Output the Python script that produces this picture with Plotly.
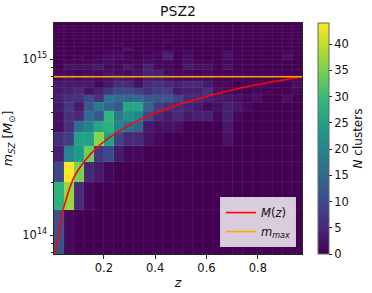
import plotly.graph_objects as go

# ---- data ----
z_edges = [0.006, 0.0446, 0.0833, 0.1219, 0.1606, 0.1992, 0.2378, 0.2765, 0.3151,
           0.3538, 0.3924, 0.4310, 0.4697, 0.5083, 0.5470, 0.5856, 0.6242, 0.6629,
           0.7015, 0.7402, 0.7788, 0.8174, 0.8561, 0.8947, 0.9334, 0.972]
m_edges = [7.80e13, 1.392e14, 2.003e14, 2.615e14, 3.226e14, 3.838e14, 4.450e14,
           5.061e14, 5.673e14, 6.284e14, 6.896e14, 7.508e14, 8.119e14, 8.731e14,
           9.342e14, 9.954e14, 1.0566e15, 1.1177e15, 1.1789e15, 1.2401e15,
           1.3012e15, 1.3624e15, 1.4235e15, 1.4847e15, 1.5459e15, 1.607e15]

# counts, rows from lowest mass bin to highest, columns in z order
counts = [
    [11, 1, 0, 0, 0, 0, 0, 0, 0, 0, 0, 0, 0, 0, 0, 0, 0, 0, 0, 0, 0, 0, 0, 0, 0],
    [28, 37, 5, 1, 0, 0, 0, 0, 0, 0, 0, 0, 0, 0, 0, 0, 0, 0, 0, 0, 0, 0, 0, 0, 0],
    [10, 44, 35, 5, 3, 1, 0, 0, 0, 0, 0, 0, 0, 0, 0, 0, 0, 0, 0, 0, 0, 0, 0, 0, 0],
    [4, 20, 24, 34, 7, 10, 3, 1, 1, 0, 0, 0, 0, 0, 0, 0, 0, 0, 0, 0, 0, 0, 0, 0, 0],
    [6, 8, 25, 25, 36, 25, 9, 5, 5, 2, 1, 0, 0, 0, 0, 0, 0, 2, 0, 0, 0, 0, 0, 0, 0],
    [2, 6, 16, 20, 26, 28, 20, 16, 14, 3, 2, 2, 2, 0, 0, 0, 0, 3, 0, 0, 0, 0, 0, 0, 0],
    [2, 6, 5, 15, 12, 29, 18, 22, 20, 10, 5, 3, 5, 3, 4, 4, 1, 4, 1, 0, 0, 0, 0, 0, 0],
    [3, 7, 3, 12, 18, 14, 12, 26, 26, 14, 8, 6, 5, 4, 3, 1, 2, 4, 3, 1, 0, 0, 0, 0, 0],
    [4, 6, 6, 10, 6, 17, 15, 15, 15, 13, 12, 12, 9, 5, 5, 4, 3, 3, 2, 1, 2, 0, 0, 2, 0],
    [3, 4, 5, 2, 4, 7, 10, 10, 8, 6, 8, 8, 3, 4, 4, 6, 2, 1, 1, 0, 1, 0, 0, 0, 1],
    [3, 3, 3, 3, 1, 3, 6, 5, 2, 5, 6, 5, 4, 5, 5, 3, 1, 1, 0, 0, 0, 0, 0, 0, 2],
    [1, 2, 1, 2, 1, 2, 3, 2, 1, 3, 3, 2, 1, 1, 1, 1, 0, 0, 0, 0, 0, 0, 0, 0, 0],
    [1, 1, 0, 1, 1, 2, 1, 1, 2, 4, 4, 1, 1, 1, 0, 1, 0, 0, 0, 0, 0, 0, 0, 0, 0],
    [0, 2, 2, 2, 3, 1, 1, 3, 1, 4, 1, 1, 0, 3, 2, 2, 0, 2, 0, 0, 0, 0, 0, 0, 0],
    [0, 1, 1, 1, 1, 2, 1, 1, 1, 2, 1, 1, 0, 2, 1, 1, 0, 1, 0, 0, 0, 0, 0, 0, 0],
    [0, 0, 1, 0, 1, 2, 2, 1, 0, 1, 1, 4, 0, 2, 0, 0, 0, 2, 0, 0, 0, 0, 0, 2, 0],
    [0, 0, 0, 0, 0, 1, 1, 0, 0, 0, 1, 3, 0, 1, 0, 0, 0, 2, 0, 0, 0, 0, 0, 1, 0],
    [0, 0, 0, 0, 0, 0, 0, 2, 0, 0, 0, 0, 0, 0, 0, 0, 0, 0, 0, 0, 0, 0, 0, 0, 0],
    [0, 0, 0, 0, 0, 0, 1, 0, 0, 0, 0, 0, 0, 0, 0, 0, 0, 0, 0, 0, 0, 0, 0, 0, 0],
    [0, 0, 0, 0, 0, 0, 0, 0, 0, 0, 0, 1, 0, 0, 0, 0, 0, 0, 0, 0, 0, 0, 0, 0, 0],
    [0, 0, 0, 0, 0, 0, 0, 0, 0, 0, 0, 0, 0, 0, 0, 0, 0, 0, 0, 0, 0, 0, 0, 0, 0],
    [0, 0, 0, 0, 0, 0, 0, 0, 0, 0, 0, 0, 0, 0, 0, 0, 0, 0, 0, 0, 0, 0, 0, 0, 0],
    [0, 0, 0, 0, 0, 0, 0, 0, 0, 0, 0, 0, 0, 0, 0, 0, 0, 0, 0, 0, 0, 0, 0, 0, 0],
    [0, 0, 0, 0, 0, 0, 0, 0, 0, 0, 0, 0, 0, 0, 0, 0, 0, 0, 0, 0, 0, 0, 0, 0, 0],
    [0, 0, 0, 0, 0, 0, 0, 0, 0, 0, 0, 0, 0, 0, 0, 0, 0, 0, 0, 0, 0, 0, 0, 0, 0],
]

curve_z = [0.0101, 0.0234, 0.0363, 0.0819, 0.127, 0.166, 0.2246, 0.322, 0.387,
           0.481, 0.611, 0.741, 0.871, 0.972]
curve_m = [7.9e13, 9.9e13, 1.3e14, 2.1e14, 2.65e14, 3.07e14, 3.6e14, 4.4e14,
           4.85e14, 5.45e14, 6.2e14, 6.9e14, 7.5e14, 7.95e14]

m_max = 7.95e14

y_tickvals = [1e14, 1e15]
y_ticktext = ["10<sup>14</sup>", "10<sup>15</sup>"]
y_minor = [8e13, 9e13, 2e14, 3e14, 4e14, 5e14, 6e14, 7e14, 8e14, 9e14]
x_tickvals = [0.2, 0.4, 0.6, 0.8]
cb_tickvals = [0, 5, 10, 15, 20, 25, 30, 35, 40]

FONT = "DejaVu Sans"
AX = "#262626"
EDGE = "rgba(255,255,255,0.07)"

fig = go.Figure()
fig.add_trace(go.Heatmap(
    x=z_edges, y=m_edges, z=counts,
    colorscale="Viridis", zmin=0, zmax=44, showlegend=False,
    colorbar=dict(
        x=1.0645, xanchor="left", xpad=0, y=0.5, yanchor="middle",
        len=1, lenmode="fraction", thickness=11, ypad=0,
        outlinewidth=1, outlinecolor="#666",
        tickvals=cb_tickvals, ticks="outside", ticklen=3, tickcolor=AX,
        tickfont=dict(family=FONT, size=11.5, color="#111"),
        title=dict(text="<i>N</i> clusters", side="right",
                   font=dict(family=FONT, size=12, color="#111")),
    ),
))

# faint cell edges, like the mesh edges of the reference
for ze in z_edges[1:-1]:
    fig.add_shape(type="line", xref="x", yref="paper", x0=ze, x1=ze, y0=0, y1=1,
                  line=dict(color=EDGE, width=1), layer="above")
for me in m_edges[1:-1]:
    fig.add_shape(type="line", xref="paper", yref="y", x0=0, x1=1, y0=me, y1=me,
                  line=dict(color=EDGE, width=1), layer="above")

fig.add_trace(go.Scatter(
    x=curve_z, y=curve_m, mode="lines", name="<i>M</i>(<i>z</i>)",
    line=dict(color="#ff0000", width=1.6, shape="spline", smoothing=0.8),
))
fig.add_trace(go.Scatter(
    x=[z_edges[0], z_edges[-1]], y=[m_max, m_max], mode="lines",
    name="<i>m</i><sub><i>max</i></sub>",
    line=dict(color="#ffa500", width=1.6),
))

fig.update_layout(
    width=372, height=293,
    margin=dict(l=54, r=70, t=23, b=39, autoexpand=False),
    paper_bgcolor="white", plot_bgcolor="#440154",
    font=dict(family=FONT, size=11.5, color="#111"),
    title=dict(text="PSZ2", x=(54 + 124) / 372, xanchor="center",
               y=1 - 11 / 293, yanchor="middle",
               font=dict(family=FONT, size=14, color="#111")),
    legend=dict(x=0.976, xanchor="right", y=0.03, yanchor="bottom",
                bgcolor="rgba(255,255,255,0.8)", bordercolor="#cccccc",
                borderwidth=1, font=dict(family=FONT, size=11.5, color="#111"),
                itemwidth=30, tracegroupgap=0),
    showlegend=True,
)
fig.update_xaxes(
    range=[z_edges[0], z_edges[-1]], tickvals=x_tickvals, automargin=False,
    ticks="outside", ticklen=3.5, tickcolor=AX, showgrid=False, zeroline=False,
    showline=True, mirror=True, linecolor=AX, linewidth=1,
    tickfont=dict(family=FONT, size=11.5),
    title=dict(text="<i>z</i>", standoff=3, font=dict(family=FONT, size=12.5)),
)
fig.update_yaxes(
    type="log", range=[13.892, 15.206], automargin=False,
    tickvals=y_tickvals, ticktext=y_ticktext,
    ticks="outside", ticklen=3.5, tickcolor=AX, showgrid=False, zeroline=False,
    showline=True, mirror=True, linecolor=AX, linewidth=1,
    tickfont=dict(family=FONT, size=11.5),
    minor=dict(tickvals=y_minor, ticks="outside", ticklen=2, tickcolor=AX, showgrid=False),
    title=dict(text="<i>m</i><sub><i>SZ</i></sub> [<i>M</i><sub>⊙</sub>]",
               standoff=6, font=dict(family=FONT, size=12.5)),
)

fig.write_html("out.html", config={"displayModeBar": False},
               post_script="document.body.style.margin='0';document.body.style.padding='0';")
